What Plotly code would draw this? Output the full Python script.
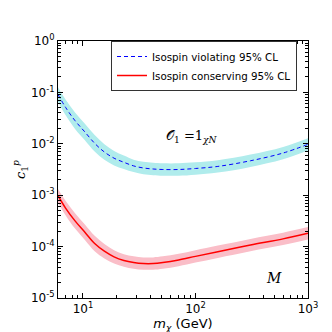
import plotly.graph_objects as go

# Dark matter mass (GeV)
mass = [6.0, 7.0, 8.5, 10.4, 12.7, 15.5, 18.9, 23.1, 28.2, 34.4, 42, 51.3,
        70.8, 100, 158, 308, 600, 1000]

# log10 of c1^p limits
# Isospin violating 95% CL: central line and band half-width (dex)
viol_log = [-1.04, -1.29, -1.55, -1.77, -1.99, -2.16, -2.28, -2.36, -2.43, -2.47,
            -2.49, -2.50, -2.50, -2.48, -2.44, -2.33, -2.18, -2.01]
viol_band = [0.14, 0.15, 0.16, 0.16, 0.16, 0.15, 0.14, 0.13, 0.12, 0.12,
             0.12, 0.12, 0.12, 0.12, 0.12, 0.12, 0.12, 0.12]
# Isospin conserving 95% CL
cons_log = [-3.01, -3.25, -3.50, -3.72, -3.94, -4.09, -4.20, -4.27, -4.31, -4.33,
            -4.33, -4.31, -4.26, -4.19, -4.10, -3.97, -3.85, -3.74]
cons_band = [0.13, 0.14, 0.15, 0.15, 0.15, 0.14, 0.13, 0.12, 0.12, 0.12,
             0.12, 0.12, 0.12, 0.12, 0.12, 0.12, 0.12, 0.12]

x_decades = [10, 100, 1000]
x_ticktext = ["10<sup>1</sup>", "10<sup>2</sup>", "10<sup>3</sup>"]
y_decades = [1e-5, 1e-4, 1e-3, 1e-2, 1e-1, 1]
y_ticktext = ["10<sup>-5</sup>", "10<sup>-4</sup>", "10<sup>-3</sup>",
              "10<sup>-2</sup>", "10<sup>-1</sup>", "10<sup>0</sup>"]

x_minor = [6, 7, 8, 9] + [m * d for d in [10, 100] for m in range(2, 10)]
y_minor = [m * d for d in [1e-5, 1e-4, 1e-3, 1e-2, 1e-1] for m in range(2, 10)]

def pw(vals):
    return [10 ** v for v in vals]

fig = go.Figure()

def band(center, half, color):
    hi = [c + h for c, h in zip(center, half)]
    lo = [c - h for c, h in zip(center, half)]
    fig.add_trace(go.Scatter(x=mass, y=pw(hi), mode="lines",
                             line=dict(width=0, shape="spline"),
                             showlegend=False, hoverinfo="skip"))
    fig.add_trace(go.Scatter(x=mass, y=pw(lo), mode="lines",
                             line=dict(width=0, shape="spline"),
                             fill="tonexty", fillcolor=color,
                             showlegend=False, hoverinfo="skip"))

band(viol_log, viol_band, "rgb(176,236,236)")
band(cons_log, cons_band, "rgb(250,190,200)")

fig.add_trace(go.Scatter(x=mass, y=pw(viol_log), mode="lines",
                         name="Isospin violating 95% CL",
                         line=dict(color="blue", width=1, dash="4px,3px", shape="spline")))
fig.add_trace(go.Scatter(x=mass, y=pw(cons_log), mode="lines",
                         name="Isospin conserving 95% CL",
                         line=dict(color="red", width=1.5, shape="spline")))

axis_common = dict(showline=True, linecolor="black", linewidth=1, mirror="ticks",
                   ticks="inside", ticklen=5, tickwidth=1, tickcolor="black",
                   showgrid=False, zeroline=False,
                   tickfont=dict(family="DejaVu Sans", size=12, color="black"))

fig.update_xaxes(type="log", range=[0.778, 3.0], tickmode="array",
                 tickvals=x_decades, ticktext=x_ticktext,
                 minor=dict(tickmode="array", tickvals=x_minor, ticks="inside",
                            ticklen=3, tickcolor="black", showgrid=False),
                 title=dict(text="<i>m<sub>χ</sub></i> (GeV)", standoff=2,
                            font=dict(family="DejaVu Sans", size=13, color="black")),
                 **axis_common)
fig.update_yaxes(type="log", range=[-5, 0], tickmode="array",
                 tickvals=y_decades, ticktext=y_ticktext,
                 minor=dict(tickmode="array", tickvals=y_minor, ticks="inside",
                            ticklen=3, tickcolor="black", showgrid=False),
                 title=dict(text="<i>c</i><sub>1</sub><sup><i>p</i></sup>", standoff=2,
                            font=dict(family="DejaVu Serif", size=13, color="black")),
                 **axis_common)

fig.add_annotation(x=0.535, y=0.63, xref="paper", yref="paper", showarrow=False,
                   text="𝒪<sub>1</sub> =1<sub><i>χN</i></sub>",
                   font=dict(family="DejaVu Serif", size=13, color="black"))
fig.add_annotation(x=0.905, y=0.04, xref="paper", yref="paper", showarrow=False,
                   text="<i>M</i>",
                   font=dict(family="DejaVu Serif", size=14, color="black"))

fig.update_layout(
    width=332, height=332,
    margin=dict(l=42, r=32, t=33, b=34),
    paper_bgcolor="white", plot_bgcolor="white",
    showlegend=True,
    legend=dict(x=0.212, y=1.0, xanchor="left", yanchor="top",
                traceorder="normal",
                bgcolor="white", bordercolor="#333", borderwidth=1,
                font=dict(family="DejaVu Sans", size=10.3, color="black"),
                tracegroupgap=0, itemwidth=30),
)

fig.write_html("out.html")
